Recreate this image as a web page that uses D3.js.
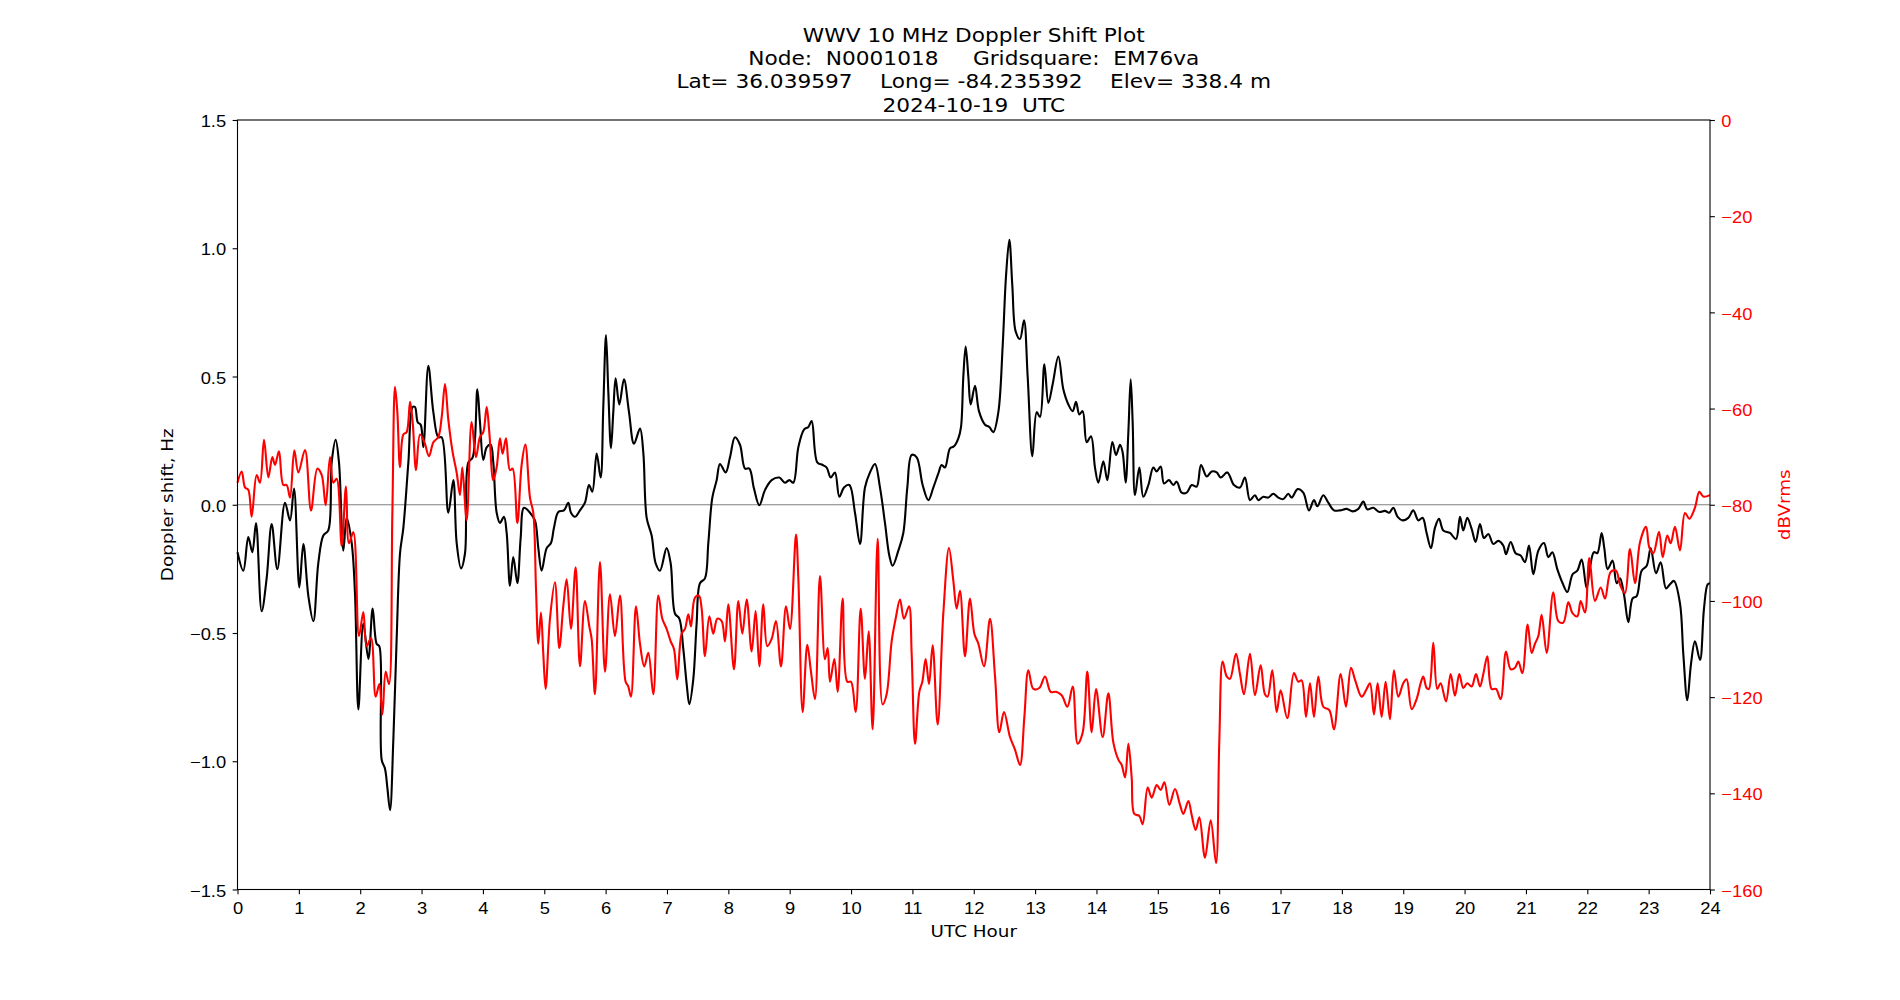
<!DOCTYPE html>
<html>
<head>
<meta charset="utf-8">
<title>WWV 10 MHz Doppler Shift Plot</title>
<script src="https://cdn.jsdelivr.net/npm/d3@7/dist/d3.min.js"></script>
<style>
  html, body { margin: 0; padding: 0; background: #fff; }
  svg { display: block; font-family: 'DejaVu Sans', sans-serif; }
</style>
</head>
<body>
<svg id="chart" width="1900" height="1000"></svg>
<script>
'use strict';

var titleLines = [
  'WWV 10 MHz Doppler Shift Plot',
  'Node:  N0001018     Gridsquare:  EM76va',
  'Lat= 36.039597    Long= -84.235392    Elev= 338.4 m',
  '2024-10-19  UTC'
];

var xTicks = d3.range(0, 25);
var leftTicks = [-1.5, -1.0, -0.5, 0.0, 0.5, 1.0, 1.5];
var rightTicks = [-160, -140, -120, -100, -80, -60, -40, -20, 0];

// doppler shift (Hz)
var dopplerHour = [
  0.0, 0.095, 0.176, 0.242, 0.302, 0.394, 0.475, 0.557, 0.649, 0.774, 0.856, 0.921,
  1.008, 1.073, 1.155, 1.236, 1.317, 1.399, 1.480, 1.535, 1.600, 1.654, 1.725, 1.779, 1.861, 1.915, 1.970,
  2.051, 2.133, 2.203, 2.268, 2.312, 2.350, 2.404, 2.442, 2.486, 2.540, 2.594, 2.649, 2.703, 2.785, 2.855, 2.893, 2.937, 2.986,
  3.029, 3.110, 3.192, 3.273, 3.328, 3.436, 3.518, 3.572, 3.643, 3.708, 3.762, 3.833, 3.909, 3.952,
  4.006, 4.061, 4.126, 4.169, 4.224, 4.278, 4.343, 4.387, 4.441, 4.495, 4.561, 4.615, 4.669, 4.767, 4.848, 4.903, 4.957,
  5.039, 5.109, 5.158, 5.229, 5.321, 5.392, 5.435, 5.500, 5.582, 5.663, 5.729, 5.783, 5.854, 5.919, 5.962,
  6.006, 6.044, 6.087, 6.125, 6.163, 6.223, 6.299, 6.381, 6.462, 6.560, 6.614, 6.669, 6.750, 6.815, 6.886, 6.994,
  7.060, 7.130, 7.201, 7.266, 7.321, 7.364, 7.429, 7.483, 7.538, 7.619, 7.674, 7.739, 7.810, 7.864, 7.956,
  8.027, 8.108, 8.190, 8.272, 8.342, 8.418, 8.505, 8.597, 8.706, 8.831, 8.923, 8.994,
  9.059, 9.141, 9.233, 9.304, 9.358, 9.450, 9.537, 9.603, 9.668, 9.738, 9.809, 9.885, 9.972,
  10.064, 10.146, 10.227, 10.309, 10.390, 10.472, 10.553, 10.624, 10.678, 10.771, 10.852, 10.917, 10.988,
  11.070, 11.167, 11.260, 11.341, 11.423, 11.477, 11.531, 11.613, 11.678, 11.749, 11.792, 11.830, 11.868, 11.912, 11.950,
  12.020, 12.085, 12.184, 12.254, 12.319, 12.401, 12.471, 12.526, 12.580, 12.629, 12.683, 12.754, 12.819, 12.879, 12.955,
  13.026, 13.080, 13.151, 13.216, 13.286, 13.379, 13.460, 13.542, 13.613, 13.667, 13.721, 13.775, 13.841, 13.911, 13.976,
  14.031, 14.112, 14.177, 14.259, 14.319, 14.384, 14.427, 14.476, 14.520, 14.558, 14.590, 14.628, 14.699, 14.764, 14.846, 14.927, 14.982,
  15.047, 15.101, 15.182, 15.253, 15.308, 15.389, 15.470, 15.552, 15.634, 15.704, 15.797, 15.878, 15.960,
  16.025, 16.133, 16.241, 16.339, 16.420, 16.502, 16.583, 16.638, 16.719, 16.801, 16.882, 16.964,
  17.045, 17.127, 17.181, 17.279, 17.371, 17.464, 17.545, 17.600, 17.697, 17.779, 17.871, 17.969,
  18.078, 18.175, 18.268, 18.349, 18.414, 18.512, 18.610, 18.702, 18.773, 18.838, 18.909, 18.990,
  19.083, 19.164, 19.246, 19.316, 19.381, 19.452, 19.517, 19.583, 19.653, 19.762, 19.860, 19.925, 19.979,
  20.044, 20.115, 20.180, 20.251, 20.316, 20.387, 20.468, 20.550, 20.631, 20.675, 20.751, 20.832, 20.914, 20.984,
  21.050, 21.120, 21.202, 21.294, 21.365, 21.430, 21.511, 21.598, 21.674, 21.761, 21.837, 21.908, 21.989,
  22.044, 22.109, 22.163, 22.234, 22.277, 22.332, 22.413, 22.478, 22.533, 22.598, 22.669, 22.739, 22.805, 22.886, 22.968,
  23.033, 23.120, 23.196, 23.283, 23.348, 23.413, 23.511, 23.565, 23.630, 23.690, 23.755, 23.837, 23.902, 23.962, 24.0
];
var dopplerHz = [
  -0.185, -0.257, -0.126, -0.185, -0.071, -0.415, -0.287, -0.075, -0.251, 0.008, -0.061, 0.063,
  -0.322, -0.153, -0.356, -0.454, -0.228, -0.120, -0.100, 0.165, 0.253, 0.165, -0.179, -0.051, -0.149, -0.346, -0.798,
  -0.464, -0.601, -0.405, -0.542, -0.552, -0.994, -1.029, -1.102, -1.191, -0.916, -0.523, -0.189, -0.090, 0.165, 0.381, 0.381, 0.322, 0.312,
  0.224, 0.542, 0.361, 0.263, 0.263, -0.031, 0.096, -0.149, -0.248, -0.189, 0.165, 0.185, 0.450, 0.322,
  0.175, 0.224, 0.234, 0.165, -0.031, -0.071, -0.047, -0.110, -0.316, -0.204, -0.306, -0.130, -0.012, -0.031, -0.061, -0.169, -0.257,
  -0.169, -0.149, -0.090, -0.028, -0.022, 0.008, -0.031, -0.047, -0.022, 0.008, 0.077, 0.051, 0.200, 0.106, 0.381,
  0.662, 0.440, 0.220, 0.361, 0.493, 0.391, 0.489, 0.361, 0.238, 0.297, 0.204, -0.051, -0.120, -0.228, -0.257, -0.169,
  -0.228, -0.424, -0.444, -0.562, -0.699, -0.778, -0.680, -0.464, -0.306, -0.287, -0.149, 0.028, 0.096, 0.159, 0.126,
  0.185, 0.263, 0.234, 0.141, 0.141, 0.063, -0.002, 0.057, 0.096, 0.106, 0.086, 0.096,
  0.086, 0.224, 0.293, 0.303, 0.326, 0.165, 0.155, 0.145, 0.106, 0.126, 0.031, 0.067, 0.077,
  -0.031, -0.153, 0.067, 0.126, 0.159, 0.067, -0.071, -0.198, -0.238, -0.179, -0.110, 0.067, 0.194,
  0.185, 0.077, 0.018, 0.067, 0.122, 0.155, 0.145, 0.220, 0.228, 0.259, 0.303, 0.499, 0.617, 0.499, 0.391,
  0.464, 0.365, 0.312, 0.303, 0.283, 0.361, 0.617, 0.892, 1.033, 0.853, 0.676, 0.646, 0.719, 0.499, 0.189,
  0.361, 0.342, 0.548, 0.397, 0.470, 0.578, 0.450, 0.391, 0.365, 0.401, 0.352, 0.365, 0.244, 0.267, 0.145,
  0.086, 0.169, 0.096, 0.244, 0.194, 0.234, 0.204, 0.086, 0.283, 0.489, 0.322, 0.037, 0.145, 0.031, 0.077, 0.145, 0.130,
  0.149, 0.083, 0.096, 0.077, 0.090, 0.047, 0.047, 0.077, 0.071, 0.155, 0.110, 0.130, 0.126,
  0.106, 0.126, 0.077, 0.067, 0.106, 0.018, 0.037, 0.018, 0.031, 0.028, 0.043, 0.028,
  0.022, 0.043, 0.028, 0.061, 0.047, -0.022, 0.018, -0.006, 0.037, 0.008, -0.022, -0.022,
  -0.016, -0.026, -0.016, 0.012, -0.018, -0.012, -0.028, -0.024, -0.031, -0.012, -0.047, -0.061,
  -0.051, -0.022, -0.061, -0.051, -0.110, -0.169, -0.090, -0.055, -0.100, -0.110, -0.134, -0.047, -0.100,
  -0.051, -0.094, -0.145, -0.075, -0.130, -0.114, -0.153, -0.141, -0.159, -0.193, -0.145, -0.189, -0.198, -0.224,
  -0.159, -0.271, -0.179, -0.149, -0.204, -0.185, -0.251, -0.306, -0.340, -0.271, -0.257, -0.214, -0.326,
  -0.244, -0.185, -0.189, -0.110, -0.169, -0.251, -0.218, -0.306, -0.287, -0.350, -0.458, -0.365, -0.356, -0.257, -0.238,
  -0.169, -0.267, -0.224, -0.326, -0.310, -0.297, -0.385, -0.582, -0.762, -0.621, -0.532, -0.605, -0.405, -0.310, -0.306
];

// received level (dBVrms)
var powerHour = [
  0.0, 0.068, 0.122, 0.176, 0.231, 0.312, 0.367, 0.432, 0.503, 0.568, 0.611, 0.676, 0.747, 0.801, 0.856, 0.926, 0.992,
  1.100, 1.198, 1.301, 1.372, 1.437, 1.508, 1.562, 1.616, 1.698, 1.768, 1.817, 1.888, 1.980,
  2.051, 2.105, 2.176, 2.252, 2.312, 2.361, 2.415, 2.469, 2.524, 2.567, 2.605, 2.649, 2.703, 2.757, 2.812, 2.855, 2.910, 2.975,
  3.046, 3.122, 3.192, 3.273, 3.328, 3.382, 3.436, 3.507, 3.572, 3.626, 3.664, 3.735, 3.816, 3.887, 3.952,
  4.006, 4.061, 4.104, 4.169, 4.224, 4.278, 4.321, 4.376, 4.441, 4.484, 4.561, 4.631, 4.691, 4.767, 4.821, 4.865, 4.903, 4.946, 4.984,
  5.022, 5.093, 5.174, 5.245, 5.310, 5.365, 5.435, 5.511, 5.582, 5.663, 5.734, 5.772, 5.826, 5.908, 5.990,
  6.071, 6.152, 6.234, 6.326, 6.370, 6.413, 6.495, 6.560, 6.630, 6.696, 6.777, 6.859, 6.924, 6.994,
  7.060, 7.114, 7.168, 7.239, 7.293, 7.348, 7.391, 7.456, 7.521, 7.565, 7.619, 7.690, 7.755, 7.820, 7.891, 7.945, 7.999,
  8.092, 8.163, 8.228, 8.299, 8.380, 8.445, 8.505, 8.570, 8.635, 8.706, 8.777, 8.858, 8.940,
  9.005, 9.103, 9.141, 9.211, 9.287, 9.347, 9.412, 9.494, 9.575, 9.619, 9.657, 9.728, 9.782, 9.863, 9.939, 9.999,
  10.075, 10.157, 10.227, 10.287, 10.352, 10.434, 10.515, 10.580, 10.662, 10.727, 10.798, 10.863, 10.945, 10.988,
  11.043, 11.113, 11.162, 11.216, 11.271, 11.330, 11.412, 11.504, 11.596, 11.667, 11.721, 11.776, 11.857, 11.939,
  12.010, 12.075, 12.167, 12.265, 12.347, 12.417, 12.493, 12.591, 12.672, 12.754, 12.825, 12.890, 12.971,
  13.069, 13.162, 13.254, 13.341, 13.433, 13.526, 13.613, 13.694, 13.775, 13.851, 13.922, 13.993,
  14.101, 14.194, 14.275, 14.357, 14.411, 14.466, 14.520, 14.574, 14.618, 14.699, 14.753, 14.835, 14.900, 14.982,
  15.047, 15.107, 15.188, 15.280, 15.362, 15.416, 15.498, 15.552, 15.617, 15.677, 15.769, 15.862, 15.949,
  16.003, 16.057, 16.123, 16.176, 16.274, 16.339, 16.404, 16.502, 16.583, 16.676, 16.746, 16.790, 16.866, 16.937,
  17.002, 17.110, 17.219, 17.290, 17.344, 17.415, 17.480, 17.545, 17.616, 17.697, 17.795, 17.871, 17.980,
  18.067, 18.148, 18.224, 18.322, 18.404, 18.458, 18.523, 18.583, 18.648, 18.713, 18.784, 18.849, 18.920,
  19.001, 19.055, 19.137, 19.218, 19.284, 19.327, 19.381, 19.419, 19.490, 19.555, 19.610, 19.697, 19.773, 19.843, 19.914, 19.979,
  20.044, 20.115, 20.186, 20.251, 20.305, 20.371, 20.441, 20.512, 20.588, 20.675, 20.751, 20.822, 20.876, 20.941,
  21.028, 21.093, 21.147, 21.202, 21.256, 21.338, 21.446, 21.528, 21.609, 21.691, 21.761, 21.837, 21.892, 21.962,
  22.033, 22.125, 22.218, 22.289, 22.381, 22.468, 22.533, 22.614, 22.696, 22.777, 22.859, 22.957,
  23.011, 23.076, 23.169, 23.229, 23.304, 23.359, 23.429, 23.511, 23.592, 23.663, 23.755, 23.826, 23.891, 24.0
];
var powerDb = [
  -75.4, -73.1, -76.4, -76.9, -82.5, -73.8, -75.4, -66.5, -74.3, -70.1, -71.7, -68.9, -75.9, -75.9, -78.5, -68.7, -73.3,
  -68.6, -81.2, -72.5, -73.8, -80.1, -70.1, -75.4, -74.6, -88.5, -76.2, -88.0, -85.7, -107.3,
  -102.3, -109.4, -107.7, -119.9, -117.3, -123.6, -114.7, -117.3, -81.7, -55.5, -60.7, -72.2, -65.4, -64.9, -58.6, -62.8, -72.8, -65.4,
  -67.0, -69.9, -67.0, -65.9, -61.8, -54.9, -62.3, -69.1, -73.3, -78.0, -72.2, -83.2, -62.8, -70.1, -65.9,
  -64.9, -59.7, -64.9, -74.9, -72.2, -66.2, -69.4, -66.2, -72.8, -72.5, -83.8, -71.7, -67.5, -78.5, -81.7, -97.4, -108.9, -102.4, -111.0,
  -118.3, -103.7, -96.1, -109.8, -101.1, -95.5, -105.8, -93.0, -113.6, -100.0, -105.3, -107.9, -119.4, -91.9, -114.7,
  -98.6, -107.3, -98.9, -116.8, -117.8, -119.9, -101.1, -108.9, -113.6, -110.8, -119.4, -98.9, -103.7, -105.8,
  -108.4, -110.0, -116.3, -106.8, -105.8, -102.8, -105.3, -99.3, -98.9, -101.6, -111.5, -103.2, -106.8, -103.7, -104.2, -108.4, -100.7,
  -114.2, -100.0, -106.8, -99.7, -110.5, -102.1, -113.6, -100.7, -109.4, -107.9, -104.2, -113.6, -101.1,
  -105.8, -86.2, -95.3, -123.1, -109.1, -114.7, -120.4, -94.8, -112.1, -109.8, -116.8, -112.1, -118.9, -99.5, -116.8, -116.8,
  -123.1, -101.6, -116.2, -106.3, -126.7, -87.1, -121.5, -119.4, -108.4, -103.7, -99.7, -103.7, -101.1, -111.0,
  -129.7, -118.9, -116.8, -112.1, -117.3, -109.2, -125.7, -102.6, -89.0, -95.8, -101.6, -97.9, -111.5, -99.5,
  -106.8, -108.9, -113.6, -103.7, -115.7, -127.3, -123.1, -128.3, -130.9, -134.1, -124.1, -114.4, -118.3,
  -118.1, -115.7, -118.9, -118.9, -119.6, -122.0, -117.8, -129.7, -127.4, -114.7, -127.3, -118.3,
  -128.3, -119.2, -129.4, -133.0, -134.1, -136.7, -129.7, -136.7, -144.3, -144.7, -146.4, -138.8, -140.9, -138.3,
  -139.3, -137.7, -142.4, -139.1, -142.4, -144.3, -141.6, -144.5, -147.6, -145.0, -153.4, -145.6, -154.5,
  -128.8, -112.6, -115.7, -116.2, -111.0, -115.2, -119.4, -111.0, -119.6, -113.4, -119.4, -119.9, -114.4, -123.1,
  -118.6, -124.4, -115.0, -116.8, -116.5, -124.1, -117.1, -124.1, -115.7, -122.0, -122.7, -126.7, -115.2,
  -122.0, -113.9, -116.8, -119.9, -118.3, -117.1, -123.6, -117.1, -124.1, -116.8, -124.6, -114.4, -119.9,
  -117.1, -116.3, -122.5, -120.4, -117.1, -115.7, -118.1, -118.3, -108.7, -118.3, -117.1, -120.9, -115.2, -119.7, -115.2, -118.1,
  -117.1, -117.8, -115.2, -117.8, -115.2, -111.5, -118.3, -118.3, -120.4, -110.5, -114.2, -113.9, -112.6, -115.0,
  -104.9, -110.8, -108.9, -107.3, -102.9, -110.8, -98.2, -104.2, -104.5, -100.3, -102.6, -103.2, -100.0, -102.4,
  -91.1, -100.0, -97.2, -99.5, -94.0, -93.7, -96.6, -98.4, -89.2, -96.3, -87.8, -84.6,
  -88.9, -90.1, -85.6, -90.9, -86.4, -88.0, -84.6, -89.5, -81.7, -82.9, -80.6, -77.3, -78.3, -78.0
];

var plot = { left: 237.5, right: 1710, top: 120, bottom: 889.5 },
    tickLen = 4.86,
    fontPx = 16.67,
    titlePx = 19.44,
    stretch = 1.1,      // matplotlib's hinted glyphs run a little wider
    titleStretch = 1.115,
    svg = d3.select('#chart'),
    x = d3.scaleLinear().domain([0, 24]).range([plot.left, plot.right]),
    yShift = d3.scaleLinear().domain([-1.5, 1.5]).range([plot.bottom, plot.top]),
    yPower = d3.scaleLinear().domain([-160, 0]).range([plot.bottom, plot.top]);

// widen tick labels around their anchor point
function stretchTicks(g, offsetX, offsetY, dy) {
  g.selectAll('.tick text').each(function () {
    d3.select(this)
      .attr('x', 0).attr('y', 0).attr('dy', dy)
      .attr('transform', 'translate(' + offsetX + ',' + offsetY + ') scale(' + stretch + ',1)');
  });
}

function styleAxis(g, labelColor) {
  g.select('.domain').remove();
  g.selectAll('.tick line').attr('stroke', '#000').attr('stroke-width', 1.1);
  g.selectAll('.tick text').attr('fill', labelColor).style('font-size', fontPx + 'px');
}

function drawAxes() {
  var bottom = svg.append('g')
    .attr('transform', 'translate(0,' + plot.bottom + ')')
    .call(d3.axisBottom(x).tickValues(xTicks).tickFormat(d3.format('d'))
      .tickSize(tickLen).tickPadding(7.5));
  styleAxis(bottom, '#000');
  stretchTicks(bottom, 0, tickLen + 7.5, '0.71em');

  var left = svg.append('g')
    .attr('transform', 'translate(' + plot.left + ',0)')
    .call(d3.axisLeft(yShift).tickValues(leftTicks).tickFormat(d3.format('.1f'))
      .tickSize(tickLen).tickPadding(6.5));
  styleAxis(left, '#000');
  stretchTicks(left, -(tickLen + 6.5), 0, '0.4em');

  var right = svg.append('g')
    .attr('transform', 'translate(' + plot.right + ',0)')
    .call(d3.axisRight(yPower).tickValues(rightTicks).tickFormat(d3.format('d'))
      .tickSize(tickLen).tickPadding(6.5));
  styleAxis(right, 'red');
  stretchTicks(right, tickLen + 6.5, 0, '0.4em');

  // frame
  svg.append('rect')
    .attr('x', plot.left).attr('y', plot.top)
    .attr('width', plot.right - plot.left).attr('height', plot.bottom - plot.top)
    .attr('fill', 'none').attr('stroke', '#000').attr('stroke-width', 1.1);
}

function drawLabels() {
  var midX = (plot.left + plot.right) / 2,
      midY = (plot.top + plot.bottom) / 2;

  svg.append('g').selectAll('text').data(titleLines).enter().append('text')
    .attr('transform', function (d, i) {
      return 'translate(' + midX + ',' + (41.5 + i * 23.4) + ') scale(' + titleStretch + ',1)';
    })
    .attr('text-anchor', 'middle')
    .style('font-size', titlePx + 'px')
    .style('white-space', 'pre')
    .attr('xml:space', 'preserve')
    .text(function (d) { return d; });

  svg.append('text')
    .attr('transform', 'translate(' + midX + ',937) scale(' + stretch + ',1)')
    .attr('text-anchor', 'middle').style('font-size', fontPx + 'px')
    .text('UTC Hour');

  svg.append('text')
    .attr('transform', 'translate(172.7,' + midY + ') rotate(-90) scale(' + stretch + ',1)')
    .attr('text-anchor', 'middle').style('font-size', fontPx + 'px')
    .text('Doppler shift, Hz');

  svg.append('text')
    .attr('transform', 'translate(1789.5,' + midY + ') rotate(-90) scale(' + stretch + ',1)')
    .attr('text-anchor', 'middle').style('font-size', fontPx + 'px')
    .attr('fill', 'red')
    .text('dBVrms');
}

function drawTraces() {
  var shiftLine = d3.line()
        .x(function (d) { return x(d[0]); })
        .y(function (d) { return yShift(d[1]); })
        .curve(d3.curveCatmullRom.alpha(0.5)),
      powerLine = d3.line()
        .x(function (d) { return x(d[0]); })
        .y(function (d) { return yPower(d[1]); })
        .curve(d3.curveCatmullRom.alpha(0.5));

  // zero reference
  svg.append('line')
    .attr('x1', x(0)).attr('x2', x(24))
    .attr('y1', yShift(0)).attr('y2', yShift(0))
    .attr('stroke', '#808080').attr('stroke-width', 1);

  svg.append('path')
    .datum(d3.zip(dopplerHour, dopplerHz))
    .attr('d', shiftLine)
    .attr('fill', 'none').attr('stroke', '#000').attr('stroke-width', 2.1)
    .attr('stroke-linejoin', 'round');

  svg.append('path')
    .datum(d3.zip(powerHour, powerDb))
    .attr('d', powerLine)
    .attr('fill', 'none').attr('stroke', 'red').attr('stroke-width', 2.1)
    .attr('stroke-linejoin', 'round');
}

drawTraces();
drawAxes();
drawLabels();
</script>
</body>
</html>
